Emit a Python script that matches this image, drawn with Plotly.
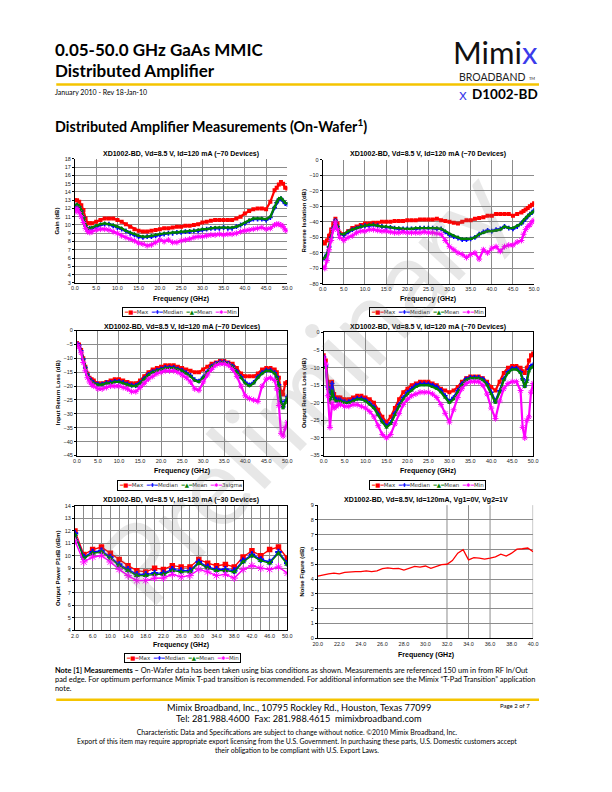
import plotly.graph_objects as go

# ---------------- data ----------------
freq = [0, 0.5, 1, 1.5, 2, 2.5, 3, 3.5, 4,
        5, 6, 7, 8, 9, 10, 11, 12, 13, 14,
        15, 16, 17, 18, 19, 20, 21, 22, 23, 24,
        25, 26, 27, 28, 29, 30, 31, 32, 33, 34,
        35, 36, 37, 38, 39, 40, 41, 42, 43, 44,
        45, 46, 47, 47.5, 48, 48.5, 49, 49.5, 50]

gain_max = [13.0, 13.0, 12.8, 12.4, 11.8, 10.8, 10.2, 10.2, 10.2,
            10.4, 10.6, 10.8, 10.8, 10.8, 10.6, 10.4, 10.1, 9.8, 9.5,
            9.3, 9.2, 9.2, 9.3, 9.4, 9.5, 9.6, 9.6, 9.7, 9.8,
            9.8, 9.9, 9.9, 10.0, 10.1, 10.3, 10.4, 10.5, 10.6, 10.6,
            10.6, 10.6, 10.6, 10.8, 11.0, 11.4, 11.7, 11.9, 12.0, 12.0,
            11.9, 12.8, 14.2, 14.5, 14.9, 15.2, 15.0, 14.5, 14.4]
gain_median = [12.3, 12.4, 12.2, 11.7, 10.9, 9.9, 9.5, 9.6, 9.6,
               9.8, 10.0, 10.1, 10.1, 9.9, 9.7, 9.5, 9.3, 9.0, 8.8,
               8.6, 8.5, 8.6, 8.6, 8.7, 8.8, 8.9, 9.0, 9.0, 9.1,
               9.1, 9.2, 9.2, 9.3, 9.3, 9.4, 9.5, 9.6, 9.6, 9.6,
               9.7, 9.6, 9.6, 9.8, 10.0, 10.2, 10.5, 10.7, 10.7, 10.7,
               10.6, 10.9, 12.1, 12.7, 13.1, 13.2, 12.9, 12.6, 12.5]
gain_mean = [12.4, 12.5, 12.3, 11.8, 11.0, 10.0, 9.6, 9.6, 9.7,
             9.9, 10.1, 10.2, 10.1, 10.0, 9.8, 9.6, 9.3, 9.1, 8.9,
             8.7, 8.6, 8.6, 8.7, 8.8, 8.9, 9.0, 9.0, 9.1, 9.1,
             9.2, 9.2, 9.3, 9.3, 9.4, 9.5, 9.5, 9.6, 9.7, 9.7,
             9.7, 9.7, 9.7, 9.8, 10.0, 10.3, 10.6, 10.8, 10.8, 10.8,
             10.7, 11.0, 12.2, 12.8, 13.2, 13.3, 13.0, 12.7, 12.6]
gain_min = [11.6, 12.0, 11.5, 11.0, 10.3, 9.6, 9.2, 9.1, 9.2,
            9.4, 9.5, 9.5, 9.4, 9.2, 9.0, 8.7, 8.5, 8.3, 8.1,
            7.8, 7.7, 7.5, 7.6, 7.9, 8.2, 8.0, 8.2, 7.9, 7.9,
            8.1, 8.2, 8.3, 8.5, 8.6, 8.6, 8.7, 8.8, 8.8, 8.9,
            8.8, 8.9, 8.9, 9.0, 9.2, 9.3, 9.4, 9.5, 9.6, 9.7,
            9.5, 9.6, 10.0, 10.1, 10.1, 10.0, 9.8, 9.4, 9.3]

iso_max = [-53, -54, -52, -49, -45, -41, -38, -41, -47,
           -48, -46, -44, -43, -42, -41, -41, -40.5, -40.5, -40,
           -40, -40, -39.5, -39.5, -39.5, -39, -39, -39, -38.5, -38.5,
           -38.5, -38.5, -38, -39, -39.5, -40, -40.5, -41, -40, -39,
           -39, -38, -37.5, -37, -36, -36, -35, -35, -35, -35,
           -36, -35, -34, -33, -32, -31, -30, -29, -28]
iso_median = [-64, -63, -61, -56, -50, -44, -39, -43, -48,
              -48.5, -46.5, -45, -44, -43, -42.5, -42.5, -42, -42.5, -43,
              -43.5, -43.5, -44, -44.5, -44.5, -44.5, -44.5, -44.5, -44, -44,
              -44, -44, -44.5, -44.5, -46.5, -48.5, -49.5, -50.5, -51.5, -51.5,
              -51, -50, -48, -46.5, -45.5, -46, -45, -44.5, -43, -44,
              -44.5, -43, -41, -39.5, -38, -36.5, -35, -34, -32.5]
iso_mean = [-64, -63, -61, -56, -50, -44, -39, -43, -48,
            -48, -46, -45, -44, -43, -42.5, -42, -42, -42.5, -43,
            -43, -43.5, -44, -44, -44.5, -44.5, -44.5, -44, -44, -44,
            -44, -44, -44, -44.5, -46, -48, -49, -50, -51, -51,
            -51, -50, -48, -47, -46, -46, -45.5, -45, -43, -44,
            -44, -42.5, -41, -39, -37.5, -36, -35, -34, -33]
iso_min = [-69, -70, -65, -58, -52, -45, -40, -45, -50,
           -52, -50, -49, -47, -46, -46, -45, -45, -45.5, -46,
           -46, -46.5, -47, -47, -46.5, -47, -47, -47, -47, -46.5,
           -47, -47, -47.5, -48, -52, -56, -58, -60, -61, -63,
           -61, -60, -64, -58, -60, -57, -56, -59, -56, -55,
           -55, -53, -52, -48, -45, -43, -42, -40, -39]

irl_max = [-4.5, -5, -7, -10, -13, -15.5, -17, -17.5, -18,
           -19, -19, -18.5, -18, -17.5, -17.5, -18, -18.5, -19, -19,
           -18, -16.5, -15, -14, -13.5, -13, -12.5, -12.5, -12.5, -13,
           -13.5, -14, -14.5, -15, -15, -14, -13, -12, -11.5, -11,
           -11, -11.5, -12, -13.5, -15.5, -16.5, -16.5, -16.5, -15.5, -14,
           -13.5, -13.5, -14, -15, -17, -22, -23, -19, -18.5]
irl_median = [-4.8, -5.3, -7.3, -10.3, -13.3, -15.8, -17.3, -18.3, -18.8,
              -19.3, -19.3, -18.8, -18.7, -18.3, -18.3, -18.7, -19.2, -19.7, -19.8,
              -18.8, -17.3, -15.8, -14.8, -14.3, -13.8, -13.3, -13.3, -13.3, -13.8,
              -14.3, -15.2, -16.2, -17.7, -18.2, -16.8, -14.8, -12.8, -11.8, -11.3,
              -11.3, -11.8, -12.8, -14.7, -16.7, -18.6, -19.6, -18.7, -16.7, -15.2,
              -14.3, -14.3, -15.2, -16.7, -19.5, -25.5, -27.5, -25.5, -23.8]
irl_mean = [-5, -5.5, -7.5, -10.5, -13.5, -16, -17.5, -18.5, -19,
            -19.5, -19.5, -19, -19, -18.5, -18.5, -19, -19.5, -20, -20,
            -19, -17.5, -16, -15, -14.5, -14, -13.5, -13.5, -13.5, -14,
            -14.5, -15.5, -16.5, -18, -18.5, -17, -15, -13, -12, -11.5,
            -11.5, -12, -13, -15, -17, -19, -20, -19, -17, -15.5,
            -14.5, -14.5, -15.5, -17, -20, -26, -28, -26, -24]
irl_3sigma = [-5, -6, -8, -11.5, -14.5, -17, -18.5, -19.5, -20,
              -21, -21, -20.5, -20, -20, -20, -20.5, -21, -22, -22,
              -20.5, -19, -17.5, -16.5, -15.5, -15, -14.5, -14.5, -14.5, -15,
              -16, -17, -18.5, -21, -21.5, -18.5, -16, -14, -12.5, -12,
              -12, -12.5, -14, -16.5, -20, -23.5, -24.5, -25, -25.5, -20,
              -17.5, -17, -18, -21, -27, -37, -38, -35, -33]

orl_max = [-6.5, -8, -14, -16, -14, -17.5, -18.5, -18.5, -18.5,
           -19, -19, -18.5, -18, -18, -18.5, -19, -20, -22, -24,
           -25.5, -24, -21.5, -19, -17, -16, -15, -14.5, -14, -14,
           -14, -14.5, -15, -16, -16.5, -17, -16.5, -15.5, -14, -13,
           -12.5, -12.5, -12.5, -13, -14, -15.5, -16.5, -14, -11.5, -10,
           -9.5, -9.5, -10, -11, -11.5, -10, -8, -6.5, -6]
orl_median = [-7, -9.5, -15.5, -19, -14.5, -18.5, -19.2, -19.2, -19.2,
              -19.7, -19.7, -19.2, -18.7, -18.7, -19.2, -20.2, -21.2, -23.2, -25.2,
              -26.6, -25.6, -23, -20.5, -18.5, -17, -16, -15, -14.6, -14.6,
              -14.6, -15, -15.5, -16.5, -18, -19.6, -18.5, -16.5, -14.6, -13.2,
              -12.8, -12.8, -12.8, -13.2, -14.6, -17, -19.6, -16.6, -13.2, -11.2,
              -10.2, -10.2, -11.2, -13.2, -15.2, -13.5, -10.5, -9.5, -9.2]
orl_mean = [-7, -10, -16, -20, -16.5, -19, -19.5, -19.5, -19.5,
            -20, -20, -19.5, -19, -19, -19.5, -20.5, -21.5, -23.5, -25.5,
            -27, -26, -23.5, -21, -19, -17.5, -16.5, -15.5, -15, -15,
            -15, -15.5, -16, -17, -18.5, -20, -19, -17, -15, -13.5,
            -13, -13, -13, -13.5, -15, -17.5, -20, -17, -13.5, -11.5,
            -10.5, -10.5, -11.5, -13.5, -15.5, -14, -11, -10, -9.5]
orl_min = [-7, -9, -18, -27, -20, -21.5, -21, -20.5, -20.5,
           -21, -21, -20.5, -20.5, -21, -21.5, -22.5, -24, -26.5, -29,
           -30, -29, -26, -23, -20.5, -19, -18, -17.5, -17, -17,
           -17, -17.5, -18.5, -20.5, -23, -25.5, -22, -18.5, -16, -14.5,
           -14, -14, -14, -15, -17.5, -21.5, -24.5, -19.5, -16, -14.5,
           -14, -14, -16.5, -27, -30, -25, -24, -17, -14.5]

p1_freq = [2, 4, 6, 8, 10, 12, 14, 16, 18, 20, 22, 24, 26,
           28, 30, 32, 34, 36, 38, 40, 42, 44, 46, 48, 50]
p1_max = [12.0, 10.1, 10.5, 10.7, 10.2, 9.7, 9.2, 8.8, 8.7, 9.0, 8.9, 9.2, 9.1,
          9.1, 9.7, 9.4, 9.2, 9.3, 9.1, 9.9, 10.4, 10.0, 10.5, 10.7, 9.8]
p1_median = [11.8, 9.9, 10.3, 10.4, 9.9, 9.3, 8.9, 8.5, 8.5, 8.6, 8.6, 8.9, 8.8,
             8.8, 9.5, 9.1, 8.9, 8.9, 8.8, 9.6, 10.1, 9.7, 9.5, 10.3, 9.4]
p1_mean = [11.7, 9.8, 10.2, 10.3, 9.8, 9.2, 8.8, 8.4, 8.4, 8.5, 8.5, 8.8, 8.7,
           8.7, 9.4, 9.0, 8.8, 8.8, 8.7, 9.5, 10.0, 9.6, 9.4, 10.2, 9.3]
p1_min = [11.2, 9.5, 9.9, 10.0, 9.5, 8.9, 8.4, 8.0, 8.0, 8.2, 8.2, 8.5, 8.3,
          8.4, 8.9, 8.7, 8.4, 8.5, 8.2, 8.9, 9.2, 9.0, 8.9, 9.1, 8.6]

nf_freq = [20, 20.5, 21, 21.5, 22, 22.5, 23, 23.5, 24, 24.5, 25, 25.5, 26, 26.5,
           27, 27.5, 28, 28.5, 29, 29.5, 30, 30.5, 31, 31.5, 32, 32.5, 33, 33.5,
           34, 34.5, 35, 35.5, 36, 36.5, 37, 37.5, 38, 38.5, 39, 39.5, 40]
nf_vals = [4.2, 4.25, 4.35, 4.4, 4.35, 4.45, 4.5, 4.5, 4.5, 4.55, 4.5, 4.55, 4.7, 4.75,
           4.7, 4.72, 4.6, 4.75, 4.85, 4.8, 4.88, 4.72, 4.85, 4.98, 5.0, 5.25, 5.75, 5.98,
           5.3, 5.45, 5.42, 5.35, 5.42, 5.5, 5.68, 5.55, 5.75, 6.02, 6.05, 6.1, 5.85]
nf_vgrid = [32, 34, 36, 40]

series_names = ["Max", "Median", "Mean", "Min"]
irl_names = ["Max", "Median", "Mean", "3sigma"]

# ---------------- styling ----------------
OFF = 8                       # page body margin of the html page
FW, FH = 612 - 2 * OFF, 792 - 2 * OFF
RED, BLUE, GREEN, MAG = "#ff0000", "#0000ff", "#008000", "#ff00ff"
GRID = "#8c8c8c"
HEAD = "Lato"
CH = "Liberation Sans"
YEL = "#f5c400"
LOGO_BLUE = "#3b3bea"


def X(px):
    return (px - OFF) / FW


def Y(py):
    return 1 - (py - OFF) / FH


fig = go.Figure()

styles = [(RED, "square"), (BLUE, "cross"), (GREEN, "triangle-up"), (MAG, "asterisk-open")]


def add_series(xs, ys_list, names, ax, msize, lw):
    for ys, name, (col, sym) in zip(ys_list, names, styles):
        marker = dict(symbol=sym, size=msize, color=col)
        if sym.endswith("open"):
            marker["line"] = dict(color=col, width=1)
            marker["size"] = msize + 1
        fig.add_trace(go.Scatter(
            x=xs, y=ys, name=name, mode="lines+markers",
            line=dict(color=col, width=lw), marker=marker,
            xaxis="x" + ax, yaxis="y" + ax, showlegend=False))


add_series(freq, [gain_max, gain_median, gain_mean, gain_min], series_names, "", 4, 2.2)
add_series(freq, [iso_max, iso_median, iso_mean, iso_min], series_names, "2", 4, 2.2)
add_series(freq, [irl_max, irl_median, irl_mean, irl_3sigma], irl_names, "3", 4, 2.2)
add_series(freq, [orl_max, orl_median, orl_mean, orl_min], series_names, "4", 4, 2.2)
add_series(p1_freq, [p1_max, p1_median, p1_mean, p1_min], series_names, "5", 5.5, 1.4)
fig.add_trace(go.Scatter(x=nf_freq, y=nf_vals, mode="lines", name="NF",
                         line=dict(color=RED, width=1.3), xaxis="x6", yaxis="y6",
                         showlegend=False))

# panel boxes (page pixels): x0, x1, ytop, ybottom
panels = [
    dict(box=(71, 287, 157, 282), xr=[0, 50], yr=[3, 18], dy=1, mirror=False),
    dict(box=(323, 538, 158, 283), xr=[0, 50], yr=[-80, 0], dy=10, mirror=False),
    dict(box=(73, 287, 330, 456), xr=[0, 50], yr=[-45, 0], dy=5, mirror=True),
    dict(box=(324, 537, 332, 456), xr=[0, 50], yr=[-35, 0], dy=5, mirror=True),
    dict(box=(71, 287, 507, 632), xr=[2, 50], yr=[4, 14], dy=1, mirror=True),
    dict(box=(318, 537, 506, 640), xr=[20, 40], yr=[0, 9], dy=1, mirror=False),
]

lay = {}
for i, p in enumerate(panels, start=1):
    s = "" if i == 1 else str(i)
    x0, x1, yt, yb = p["box"]
    xa = dict(domain=[X(x0), X(x1)], anchor="y" + s, range=p["xr"],
              tickmode="linear", tick0=p["xr"][0], dtick=5, tickformat=".1f",
              showgrid=True, gridcolor=GRID, gridwidth=1, zeroline=False,
              showline=True, linecolor="black", linewidth=1,
              mirror=p["mirror"], ticks="", ticklen=0,
              tickfont=dict(family=CH, size=5.5, color="#222"), fixedrange=True)
    ya = dict(domain=[Y(yb), Y(yt)], anchor="x" + s, range=p["yr"],
              tickmode="linear", tick0=p["yr"][0], dtick=p["dy"],
              showgrid=True, gridcolor=GRID, gridwidth=1, zeroline=False,
              showline=True, linecolor="black", linewidth=1,
              mirror=p["mirror"], ticks="outside", ticklen=2, tickcolor="black",
              tickfont=dict(family=CH, size=5.5, color="#222"), fixedrange=True)
    if i == 5:
        xa.update(dtick=4, minor=dict(dtick=2, tick0=2, showgrid=True,
                                      gridcolor=GRID, gridwidth=1))
    if i == 6:
        xa.update(dtick=2, showgrid=False)
    lay["xaxis" + s] = xa
    lay["yaxis" + s] = ya

fig.update_layout(**lay)

shapes = []
for v in nf_vgrid:
    shapes.append(dict(type="line", xref="x6", yref="y6 domain", x0=v, x1=v,
                       y0=0, y1=1, line=dict(color=GRID, width=1), layer="below"))
for yy in (82, 702):
    shapes.append(dict(type="line", xref="paper", yref="paper", x0=X(52), x1=X(543),
                       y0=Y(yy), y1=Y(yy), line=dict(color=YEL, width=2.5)))

anns = []


def txt(s, x, y, size, bold=False, color="black", xa="center", ya="middle",
        angle=0, family=CH, weight=None, **kw):
    d = dict(text=s, x=X(x), y=Y(y), xref="paper", yref="paper",
             xanchor=xa, yanchor=ya, showarrow=False, textangle=angle, borderpad=0,
             font=dict(family=family, size=size, color=color,
                       weight=weight if weight else ("bold" if bold else "normal")))
    d.update(kw)
    anns.append(d)


# header
txt("0.05-50.0 GHz GaAs MMIC", 50, 47, 17, bold=True, xa="left", family=HEAD)
txt("Distributed Amplifier", 50, 67.5, 17, bold=True, xa="left", family=HEAD)
txt("January 2010 - Rev 18-Jan-10", 50, 90, 7, xa="left", family=HEAD)
txt(f'Mimi<span style="color:{LOGO_BLUE};font-size:31px">x</span>', 543, 49.5, 31,
    xa="right", family=HEAD, color="#111")
txt("BROADBAND", 530, 74.5, 10.5, xa="right", family=HEAD, color="#222")
txt("TM", 532, 76.5, 4, xa="left", family=HEAD, color="#222")
txt("x", 466, 92, 15, family="Open Sans", color=LOGO_BLUE)
txt("D1002-BD", 543, 92, 13.5, bold=True, xa="right", family=HEAD)
txt("Distributed Amplifier Measurements (On-Wafer<sup>1</sup>)", 50, 123, 14.3,
    bold=True, xa="left", family=HEAD)

# chart titles
t70 = "XD1002-BD, Vd=8.5 V, Id=120 mA (~70 Devices)"
txt(t70, 179, 152, 7, bold=True)
txt(t70, 430, 152, 7, bold=True)
txt(t70, 180, 326, 7, bold=True)
txt(t70, 430, 326, 7, bold=True)
txt("XD1002-BD, Vd=8.5 V, Id=120 mA (~30 Devices)", 179, 501, 7, bold=True)
txt("XD1002-BD, Vd=8.5V, Id=120mA, Vg1=0V, Vg2=1V", 428, 501, 7, bold=True)

# axis titles
fq = "Frequency (GHz)"
txt(fq, 179, 298, 7, bold=True)
txt(fq, 430, 298, 7, bold=True)
txt(fq, 180, 472, 7, bold=True)
txt(fq, 430, 472, 7, bold=True)
txt(fq, 179, 647, 7, bold=True)
txt(fq, 428, 657, 7, bold=True)
txt("Gain (dB)", 53, 220, 6, bold=True, angle=-90)
txt("Reverse Isolation (dB)", 304, 220, 6, bold=True, angle=-90)
txt("Input Return Loss (dB)", 54, 393, 6, bold=True, angle=-90)
txt("Output Return Loss (dB)", 304, 393, 6, bold=True, angle=-90)
txt("Output Power P1dB (dBm)", 53, 570, 6, bold=True, angle=-90)
txt("Noise Figure (dB)", 302, 573, 6, bold=True, angle=-90)

# legends
sym = [(RED, "■"), (BLUE, "✚"), (GREEN, "▲"), (MAG, "✱")]


def legend_text(names):
    parts = []
    for (c, s), n in zip(sym, names):
        parts.append(f'<span style="color:{c};font-size:5.5px">━{s}━</span>{n}')
    return "\u00a0\u00a0".join(parts)


for (cx, cy), names in [((178, 311), series_names), ((430, 311), series_names),
                        ((178, 486), irl_names), ((430, 486), series_names),
                        ((180, 660), series_names)]:
    txt(legend_text(names), cx, cy, 5.5, family="DejaVu Sans", color="#333",
        bordercolor="black", borderwidth=1, bgcolor="white")
    anns[-1]["borderpad"] = 1

# watermark
txt("Preliminary", 303, 385, 110, family=HEAD, color="rgba(110,110,110,0.17)",
    angle=-47)

# footer
txt('<span style="font-weight:bold;font-size:7.4px">Note [1] Measurements –</span> '
    "On-Wafer data has been taken using bias conditions as shown. "
    "Measurements are referenced 150 um in from RF In/Out", 50, 673, 7.4, xa="left",
    family=HEAD)
txt("pad edge. For optimum performance Mimix T-pad transition is recommended. For additional "
    "information see the Mimix “T-Pad Transition” application", 50, 682, 7.4, xa="left",
    family=HEAD)
txt("note.", 50, 691, 7.4, xa="left", family=HEAD)
txt("Mimix Broadband, Inc., 10795 Rockley Rd., Houston, Texas 77099", 299, 710, 9.2,
    family=HEAD)
txt("Tel: 281.988.4600  Fax: 281.988.4615  mimixbroadband.com", 299, 721, 9.2,
    family=HEAD)
txt("Page 2 of 7", 519, 708, 6, family=HEAD)
txt("Characteristic Data and Specifications are subject to change without notice. ©2010 "
    "Mimix Broadband, Inc.<br>Export of this item may require appropriate export licensing "
    "from the U.S. Government. In purchasing these parts, U.S. Domestic customers accept"
    "<br>their obligation to be compliant with U.S. Export Laws.", 297, 743.5, 6.9,
    family=HEAD)

fig.update_layout(width=FW, height=FH, margin=dict(l=0, r=0, t=0, b=0),
                  paper_bgcolor="white", plot_bgcolor="white",
                  showlegend=False, annotations=anns, shapes=shapes)

fig.write_html("out.html", config={"displayModeBar": False})
